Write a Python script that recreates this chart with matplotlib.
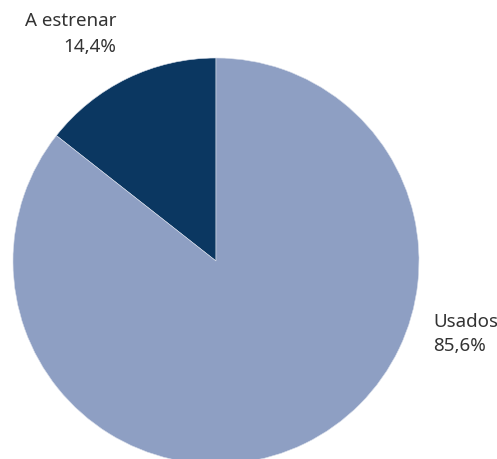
import matplotlib
matplotlib.use("Agg")
import matplotlib.pyplot as plt

categories = ["A estrenar", "Usados"]
values = [14.4, 85.6]
colors = ["#0b3761", "#8e9fc3"]

plt.rcParams['font.family'] = ['Noto Sans', 'DejaVu Sans']

fig = plt.figure(figsize=(4.97, 4.60), dpi=100)
ax = fig.add_axes([0, 0, 1, 1])

ax.pie(values, colors=colors, startangle=90, counterclock=True,
       center=(216, 198), radius=203, frame=True,
       wedgeprops=dict(linewidth=0.4, edgecolor='#d8deea'))
ax.set_xlim(0, 497)
ax.set_ylim(0, 460)
ax.set_aspect('equal')
ax.axis('off')

def fmt(v):
    return f"{v:.1f}".replace('.', ',') + "%"

tc = '#333333'
fs = 13.5
ax.text(116, 439, categories[0], ha='right', va='center', fontsize=fs, color=tc)
ax.text(116, 413, fmt(values[0]), ha='right', va='center', fontsize=fs, color=tc)
ax.text(433, 138, categories[1], ha='left', va='center', fontsize=fs, color=tc)
ax.text(433, 114, fmt(values[1]), ha='left', va='center', fontsize=fs, color=tc)

fig.savefig("out.png", dpi=100)
